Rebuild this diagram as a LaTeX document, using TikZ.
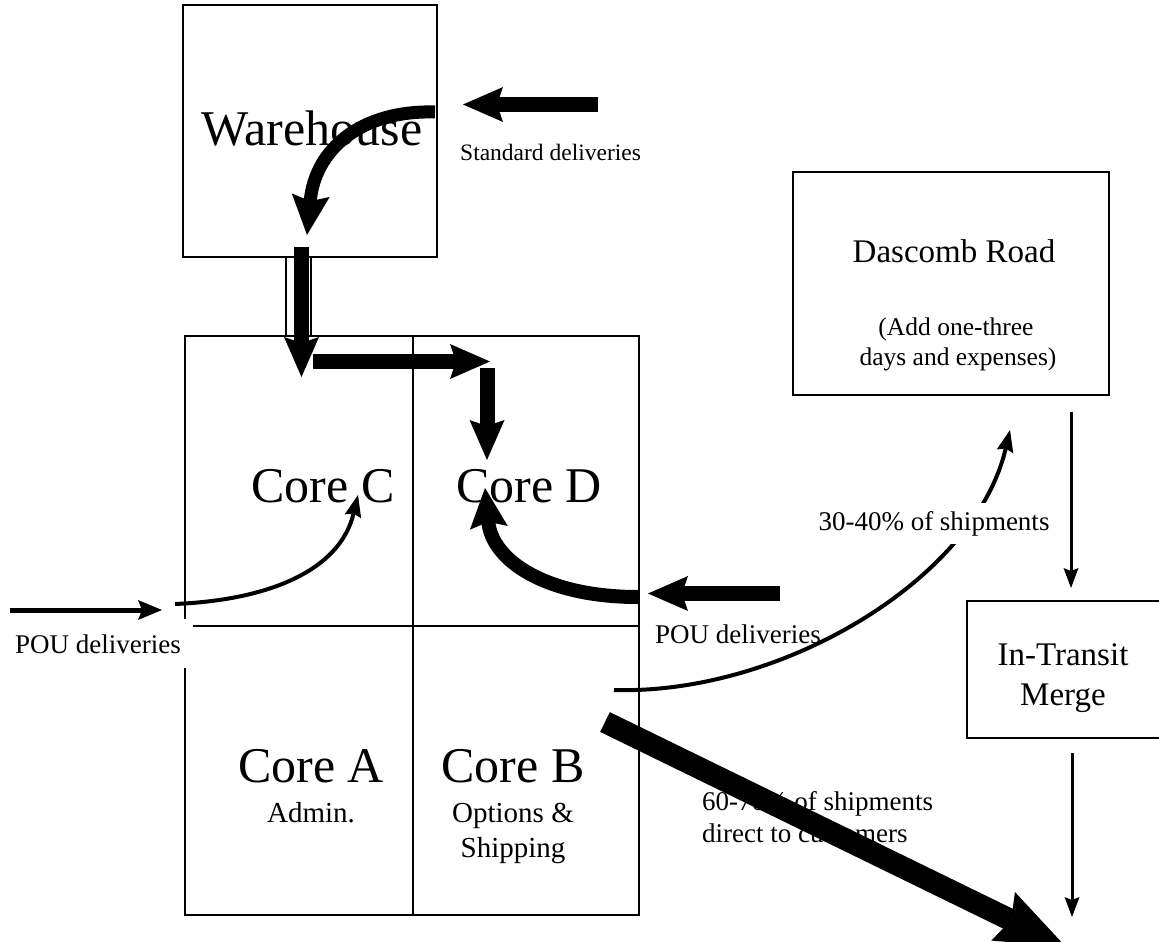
\documentclass[tikz,border=0pt]{standalone}
\usepackage{fontspec}
\setmainfont{Liberation Serif}
\usetikzlibrary{arrows.meta}
\begin{document}
\begin{tikzpicture}[x=1pt,y=-1pt,
  boxline/.style={draw, line width=2.4pt, inner sep=0pt},
  bigtxt/.style={font=\fontsize{50}{55}\selectfont, inner sep=0pt},
  midtxt/.style={font=\fontsize{33}{38}\selectfont, inner sep=0pt},
  subtxt/.style={font=\fontsize{29}{33}\selectfont, inner sep=0pt},
  smltxt/.style={font=\fontsize{27}{31}\selectfont, inner sep=0pt},
  notetxt/.style={font=\fontsize{25.5}{30}\selectfont, inner sep=0pt},
  stdtxt/.style={font=\fontsize{23.5}{28}\selectfont, inner sep=0pt},
  fatarrow/.style={line width=15pt, -{Stealth[length=40pt,width=35pt,inset=6pt,line width=0pt]}},
  curvearrow/.style={line width=13pt, -{Stealth[length=40pt,width=38pt,inset=6pt,line width=0pt]}},
  hugearrow/.style={line width=22pt, -{Stealth[length=70pt,width=54pt,inset=9pt,line width=0pt]}},
  thinarrow/.style={line width=3pt, -{Stealth[length=20pt,width=15pt,inset=3pt,line width=0pt]}},
  slimarrow/.style={line width=4pt, -{Stealth[length=22pt,width=17pt,inset=3pt,line width=0pt]}},
]
\useasboundingbox (0,0) rectangle (1159,942);

% ---------- boxes ----------
\node[boxline, minimum width=254pt, minimum height=252pt] (wh) at (310,131) {};
\node[bigtxt, anchor=base] (whlabel) at (312,145) {Warehouse};

\node[boxline, minimum width=454pt, minimum height=579pt] (cores) at (412,625.5) {};
\coordinate (vtop) at (413,336);
\coordinate (vbot) at (413,915);
\coordinate (hleft) at (193,626);
\coordinate (hright) at (639,626);
\draw[line width=2.4pt] (vtop) -- (vbot);
\draw[line width=2.4pt] (hleft) -- (hright);

\node[boxline, minimum width=316pt, minimum height=223pt] (dr) at (951,283.5) {};
\node[midtxt, anchor=base] (drlabel) at (954,262) {Dascomb Road};
\node[notetxt, anchor=base] (drnote1) at (956,335) {(Add one-three};
\node[notetxt, anchor=base] (drnote2) at (958,365) {days and expenses)};

\node[boxline, minimum width=194pt, minimum height=137pt] (itm) at (1064,669.5) {};
\node[midtxt, anchor=base] (itm1) at (1063,665) {In-Transit};
\node[midtxt, anchor=base] (itm2) at (1063,705) {Merge};

% ---------- core labels ----------
\node[bigtxt, anchor=base] (cC) at (323,502) {Core C};
\node[bigtxt, anchor=base] (cD) at (529,502) {Core D};
\node[bigtxt, anchor=base] (cA) at (311,782) {Core A};
\node[subtxt, anchor=base] (cAsub) at (311,822) {Admin.};
\node[bigtxt, anchor=base] (cB) at (513,782) {Core B};
\node[subtxt, anchor=base] (cBsub1) at (513,822) {Options \&};
\node[subtxt, anchor=base] (cBsub2) at (513,857) {Shipping};

% ---------- other labels ----------
\node[stdtxt, anchor=base west] (stdl) at (460,160) {Standard deliveries};
\node[smltxt, anchor=base west] (pour) at (655,643) {POU deliveries};
\node[smltxt, anchor=base east, fill=white, inner xsep=12pt, inner ysep=15pt] (poul) at (193,653) {POU deliveries};
\node[smltxt, anchor=base west] (d1) at (702,810) {60-70\% of shipments};
\node[smltxt, anchor=base west] (d2) at (702,842) {direct to customers};

% ---------- coordinates ----------
\coordinate (sdS) at (598,104.5);
\coordinate (sdE) at (463,104.5);
\coordinate (whS) at (435,112);
\coordinate (whE) at (307,235);
\coordinate (dlS) at (301.5,247);
\coordinate (dlE) at (301.5,377);
\coordinate (trS) at (313,361.5);
\coordinate (trE) at (490,361.5);
\coordinate (cdS) at (487,368);
\coordinate (cdE) at (487,460);
\coordinate (crS) at (638,597);
\coordinate (crE) at (485,488);
\coordinate (prS) at (780,593.5);
\coordinate (prE) at (648,593.5);
\coordinate (plS) at (10,610);
\coordinate (plE) at (162,610);
\coordinate (clS) at (175,604);
\coordinate (clE) at (358,495);
\coordinate (sh30S) at (614,690);
\coordinate (sh30E) at (1010,430);
\coordinate (drS) at (1071,412);
\coordinate (drE) at (1071,588);
\coordinate (itS) at (1072,753);
\coordinate (itE) at (1072,917);
\coordinate (bigS) at (605,722);
\coordinate (bigE) at (1066,947);

% ---------- connectors ----------
\draw[fatarrow] (sdS) -- (sdE);
\draw[curvearrow] (whS) .. controls (360,110) and (315,150) .. (whE);

\draw[line width=1.6pt, fill=white] (286,257) rectangle (311,336);
\draw[fatarrow] (dlS) -- (dlE);

\draw[fatarrow] (trS) -- (trE);
\draw[fatarrow] (cdS) -- (cdE);
\draw[curvearrow, line width=14pt] (crS) .. controls (545,597) and (492,560) .. (crE);
\draw[fatarrow] (prS) -- (prE);

\draw[line width=5pt, -{Stealth[length=24pt,width=20pt,inset=4pt,line width=0pt]}] (plS) -- (plE);
\draw[slimarrow] (clS) .. controls (270,600) and (340,570) .. (clE);

\draw[slimarrow] (sh30S) .. controls (780,695) and (975,580) .. (sh30E);
\node[smltxt, anchor=base, fill=white, inner xsep=3pt, inner ysep=8pt] (sh30) at (934,530) {30-40\% of shipments};

\draw[thinarrow] (drS) -- (drE);
\draw[thinarrow] (itS) -- (itE);

\draw[hugearrow] (bigS) -- (bigE);
\end{tikzpicture}
\end{document}
